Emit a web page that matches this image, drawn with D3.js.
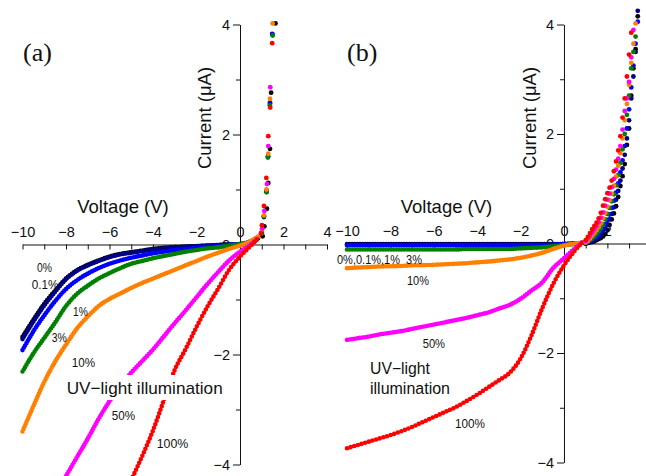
<!DOCTYPE html>
<html><head><meta charset="utf-8">
<script src="https://cdn.jsdelivr.net/npm/d3@7"></script>
<style>html,body{margin:0;padding:0;background:#fff;overflow:hidden}</style>
</head><body><svg id="c" width="646" height="476"></svg>
<script>
// ---- series meta ----
const seriesNames  = ["0%","0.1%","1%","3%","10%","50%","100%"];
const seriesColors = ["#000000","#000080","#0000ff","#008000","#ff8000","#ff00ff","#ff0000"];

// ---- reverse-bias (dense) part, common voltage grid ----
const revVolts = [-10,-9.5,-9,-8.5,-8,-7.5,-7,-6.5,-6,-5.5,-5,-4.5,-4,-3.5,-3,-2.5,-2,-1.5,-1,-0.5,0,0.5,0.85];

// panel (a)
const aRev0   = [-1.68,-1.37,-1.08,-0.84,-0.62,-0.47,-0.37,-0.29,-0.22,-0.17,-0.14,-0.11,-0.08,-0.06,-0.05,-0.04,-0.03,-0.02,-0.01,0,0,0.03,0.12];
const aRev01  = [-1.72,-1.40,-1.11,-0.86,-0.63,-0.48,-0.38,-0.30,-0.23,-0.18,-0.15,-0.12,-0.09,-0.07,-0.05,-0.04,-0.03,-0.02,-0.01,0,0,0.03,0.12];
const aRev1   = [-1.92,-1.58,-1.29,-1.03,-0.81,-0.65,-0.53,-0.43,-0.35,-0.29,-0.24,-0.20,-0.16,-0.13,-0.10,-0.08,-0.06,-0.04,-0.03,-0.01,0.01,0.05,0.13];
const aRev3   = [-2.31,-1.98,-1.70,-1.42,-1.12,-0.90,-0.75,-0.62,-0.52,-0.43,-0.35,-0.30,-0.25,-0.21,-0.17,-0.13,-0.10,-0.07,-0.05,-0.02,0.01,0.06,0.14];
const aRev10  = [-3.40,-2.94,-2.50,-2.13,-1.82,-1.53,-1.31,-1.12,-0.99,-0.89,-0.79,-0.70,-0.62,-0.54,-0.46,-0.38,-0.30,-0.22,-0.15,-0.08,-0.02,0.06,0.15];
const aRev50  = [null,null,null,null,-4.21,-3.87,-3.53,-3.17,-2.85,-2.57,-2.33,-2.12,-1.91,-1.67,-1.43,-1.20,-0.96,-0.72,-0.50,-0.29,-0.13,0.0,0.13];
const aRev100 = [null,null,null,null,null,null,null,null,null,null,-4.28,-3.85,-3.38,-2.83,-2.28,-1.90,-1.50,-1.13,-0.80,-0.46,-0.22,-0.02,0.12];

// panel (b)
const bRev0   = [-0.01,-0.01,-0.01,-0.01,-0.01,-0.01,-0.01,-0.01,-0.01,-0.01,-0.01,-0.01,-0.01,-0.01,-0.01,-0.01,-0.01,-0.01,-0.01,-0.01,-0.01,0,0.01];
const bRev01  = [-0.02,-0.02,-0.02,-0.02,-0.02,-0.02,-0.02,-0.02,-0.02,-0.02,-0.02,-0.02,-0.02,-0.02,-0.02,-0.02,-0.02,-0.02,-0.02,-0.02,-0.01,0,0.01];
const bRev1   = [-0.03,-0.03,-0.03,-0.03,-0.03,-0.03,-0.03,-0.03,-0.03,-0.03,-0.03,-0.03,-0.03,-0.03,-0.03,-0.03,-0.03,-0.03,-0.03,-0.02,-0.01,0,0.01];
const bRev3   = [-0.11,-0.11,-0.11,-0.11,-0.11,-0.11,-0.11,-0.11,-0.11,-0.11,-0.11,-0.10,-0.10,-0.10,-0.10,-0.10,-0.09,-0.08,-0.07,-0.05,-0.03,-0.01,0.0];
const bRev10  = [-0.45,-0.44,-0.43,-0.42,-0.415,-0.41,-0.40,-0.395,-0.39,-0.38,-0.37,-0.36,-0.345,-0.33,-0.31,-0.29,-0.26,-0.22,-0.17,-0.10,-0.04,0.0,0.01];
const bRev50  = [-1.76,-1.73,-1.70,-1.66,-1.63,-1.60,-1.56,-1.52,-1.48,-1.44,-1.40,-1.36,-1.31,-1.26,-1.19,-1.12,-1.01,-0.86,-0.71,-0.45,-0.27,-0.09,0.02];
const bRev100 = [-3.74,-3.68,-3.62,-3.56,-3.50,-3.43,-3.35,-3.26,-3.17,-3.08,-2.99,-2.88,-2.76,-2.63,-2.50,-2.36,-2.10,-1.68,-1.18,-0.74,-0.40,-0.13,0.02];

// ---- forward-bias (sparse) points ----
// panel (a): [voltage, current] pairs
const aFwd0   = [[1.04,0.15],[1.12,0.33],[1.24,0.65],[1.30,1.12],[1.38,1.74],[1.43,2.76],[1.63,4.02]];
const aFwd01  = [[1.00,0.21],[1.10,0.50],[1.22,0.96],[1.29,1.60],[1.38,2.56],[1.49,3.82]];
const aFwd1   = [[1.00,0.22],[1.10,0.52],[1.22,0.97],[1.29,1.60],[1.38,2.58],[1.48,3.83]];
const aFwd3   = [[1.00,0.20],[1.10,0.51],[1.22,0.95],[1.28,1.58],[1.37,2.53],[1.50,3.80]];
const aFwd10  = [[1.01,0.27],[1.10,0.53],[1.22,1.00],[1.30,1.65],[1.38,2.65],[1.50,4.02]];
const aFwd50  = [[1.02,0.29],[1.12,0.61],[1.24,1.10],[1.30,1.79],[1.39,2.86]];
const aFwd100 = [[0.96,0.20],[1.01,0.35],[1.10,0.70],[1.21,1.21],[1.30,1.97],[1.39,2.49],[1.48,3.66]];

// panel (b): common voltage grid, currents per series
const bFwdVolts = [1.0,1.1,1.2,1.3,1.4,1.5,1.6,1.7,1.8,1.9,2.0,2.1,2.2,2.3,2.4,2.5,2.6,2.7,2.8,2.9,3.0,3.1,3.2,3.3,3.4];
const bFwd0   = [0.0,0.01,0.02,0.03,0.04,0.06,0.08,0.10,0.13,0.17,0.25,0.34,0.44,0.55,0.68,0.85,1.05,1.23,1.45,1.80,2.10,2.70,3.20,3.55,4.15];
const bFwd01  = [0.0,0.01,0.03,0.05,0.07,0.09,0.12,0.16,0.21,0.27,0.35,0.44,0.54,0.66,0.80,0.96,1.15,1.37,1.62,1.92,2.25,2.65,3.05,3.50,4.25];
const bFwd1   = [0.0,0.02,0.04,0.06,0.09,0.12,0.16,0.21,0.27,0.35,0.43,0.53,0.65,0.78,0.93,1.10,1.30,1.52,1.78,2.10,2.45,2.85,3.25,3.65,4.05];
const bFwd3   = [0.01,0.03,0.06,0.09,0.13,0.17,0.22,0.28,0.35,0.44,0.54,0.65,0.77,0.90,1.06,1.25,1.47,1.72,2.00,2.35,2.70,3.20,3.50,3.78];
const bFwd10  = [0.02,0.05,0.09,0.14,0.19,0.24,0.30,0.37,0.46,0.56,0.67,0.79,0.91,1.05,1.22,1.42,1.65,1.92,2.25,2.55,2.90,3.30,3.65,4.02];
const bFwd50  = [0.04,0.09,0.14,0.20,0.26,0.32,0.39,0.47,0.57,0.69,0.80,0.91,1.03,1.18,1.35,1.55,1.78,2.08,2.42,2.65,2.95,3.40,3.90];
const bFwd100 = [0.06,0.12,0.19,0.26,0.32,0.38,0.46,0.56,0.69,0.81,0.92,1.02,1.15,1.32,1.50,1.70,1.96,2.30,2.65,3.05,3.45,3.85];

// ---- ticks ----
const yMajorTicks = [-4,-2,0,2,4];
const yMinorTicks = [-3,-1,1,3];
const aXMajorTicks = [-10,-8,-6,-4,-2,0,2,4];
const aXMinorTicks = [-9,-7,-5,-3,-1,1,3];
const bXMajorTicks = [-10,-8,-6,-4,-2,0,2];
const bXMinorTicks = [-9,-7,-5,-3,-1,1,3];

// ---- drawing ----
const svg = d3.select("#c");
svg.append("rect").attr("width",646).attr("height",476).attr("fill","#fff");
const FONT = "'Liberation Sans', Arial, sans-serif";

function drawPanel(opt){
  const x = d3.scaleLinear().domain(opt.xDomain).range(opt.xRange);
  const y = d3.scaleLinear().domain([-4,4]).range(opt.yRange);
  const g = svg.append("g");
  const styleAxis = sel => {
    sel.selectAll("path,line").attr("stroke","#111").attr("stroke-width",1);
    sel.selectAll("text").attr("font-family",FONT).attr("font-size",14.5).attr("fill","#111");
  };
  g.append("g").attr("transform",`translate(0,${y(0)})`)
    .call(d3.axisTop(x).tickValues(opt.xMajor).tickSize(-5).tickPadding(8).tickSizeOuter(0))
    .call(styleAxis);
  g.append("g").attr("transform",`translate(0,${y(0)})`)
    .call(d3.axisTop(x).tickValues(opt.xMinor).tickSize(-5).tickFormat(""))
    .call(s=>s.select(".domain").remove()).call(styleAxis);
  g.append("g").attr("transform",`translate(${x(0)},0)`)
    .call(d3.axisLeft(y).tickValues(yMajorTicks).tickSize(7).tickPadding(3).tickSizeOuter(0))
    .call(styleAxis);
  g.append("g").attr("transform",`translate(${x(0)},0)`)
    .call(d3.axisLeft(y).tickValues(yMinorTicks).tickSize(4).tickFormat(""))
    .call(s=>s.select(".domain").remove()).call(styleAxis);

  g.append("text").attr("x",opt.vTitle[0]).attr("y",opt.vTitle[1]).attr("text-anchor","middle")
    .attr("font-family",FONT).attr("font-size",18.5).attr("fill","#111").text("Voltage (V)");
  g.append("text").attr("transform",`translate(${opt.cTitle[0]},${opt.cTitle[1]}) rotate(-90)`)
    .attr("text-anchor","middle").attr("font-family",FONT).attr("font-size",18.5).attr("fill","#111")
    .text("Current (\u03bcA)");
  g.append("text").attr("x",opt.tag[0]).attr("y",opt.tag[1])
    .attr("font-family","'Liberation Serif','Times New Roman',serif").attr("font-size",26).attr("fill","#111")
    .text(opt.tagText);

  const line = d3.line().defined(d=>d[1]!==null)
    .x(d=>x(d[0])).y(d=>y(d[1])).curve(d3.curveMonotoneX);
  opt.rev.forEach((arr,i)=>{
    const pts = revVolts.map((v,j)=>[v,arr[j]]);
    g.append("path").datum(pts).attr("d",line).attr("fill","none")
      .attr("stroke",seriesColors[i]).attr("stroke-width",4.6)
      .attr("stroke-linecap","round")
      .attr("stroke-dasharray", i===6 ? "0 3.8" : "0 2.6");
  });
  opt.fwd.forEach((pts,i)=>{
    g.selectAll(null).data(pts).join("circle")
      .attr("cx",d=>x(d[0])).attr("cy",d=>y(d[1])).attr("r",2.4)
      .attr("fill",seriesColors[i]);
  });
  return {x,y,g};
}

drawPanel({
  xDomain:[-10,4], xRange:[22.5,327], yRange:[464.5,24.5],
  xMajor:aXMajorTicks, xMinor:aXMinorTicks,
  vTitle:[123,213], cTitle:[211,118], tag:[23,61], tagText:"(a)",
  rev:[aRev0,aRev01,aRev1,aRev3,aRev10,aRev50,aRev100],
  fwd:[aFwd0,aFwd01,aFwd1,aFwd3,aFwd10,aFwd50,aFwd100]
});
const bFwdAll = [bFwd0,bFwd01,bFwd1,bFwd3,bFwd10,bFwd50,bFwd100].map(arr=>arr.map((c,j)=>[bFwdVolts[j],c]));
drawPanel({
  xDomain:[-10,3.78], xRange:[347,646], yRange:[462.5,24.5],
  xMajor:bXMajorTicks, xMinor:bXMinorTicks,
  vTitle:[446.5,213], cTitle:[536,118], tag:[347,61], tagText:"(b)",
  rev:[bRev0,bRev01,bRev1,bRev3,bRev10,bRev50,bRev100],
  fwd:bFwdAll
});

// ---- annotations ----
function label(txt,x,y,size,w){
  const t = svg.append("text").attr("x",x).attr("y",y).attr("font-family",FONT)
    .attr("font-size",size||13).attr("fill","#111").attr("xml:space","preserve").text(txt);
  if (w) t.attr("textLength",w).attr("lengthAdjust","spacingAndGlyphs");
  return t;
}
label(seriesNames[0],37,272,13,15);
label(seriesNames[1],31.7,289,13,26.7);
label(seriesNames[2],73,316,13,14.7);
label(seriesNames[3],51.7,341.5,13,15);
label(seriesNames[4],71.7,366.5,13,23.3);
label(seriesNames[5],111.7,420,13,23.3);
label(seriesNames[6],156.7,448,13,31.6);
svg.append("rect").attr("x",63).attr("y",375).attr("width",164).attr("height",25).attr("fill","#fff");
label("UV\u2212light illumination",66.7,393.5,17,156);

label(seriesNames.slice(0,3).join(",") + "  " + seriesNames[3],337,264,12.5,85);
label(seriesNames[4],407,285,13,22);
label(seriesNames[5],422.7,348,13,22.3);
label(seriesNames[6],455,428,13,30);
label("UV\u2212light",370,373.5,16,60);
label("illumination",370,394,16,80);
</script></body></html>
